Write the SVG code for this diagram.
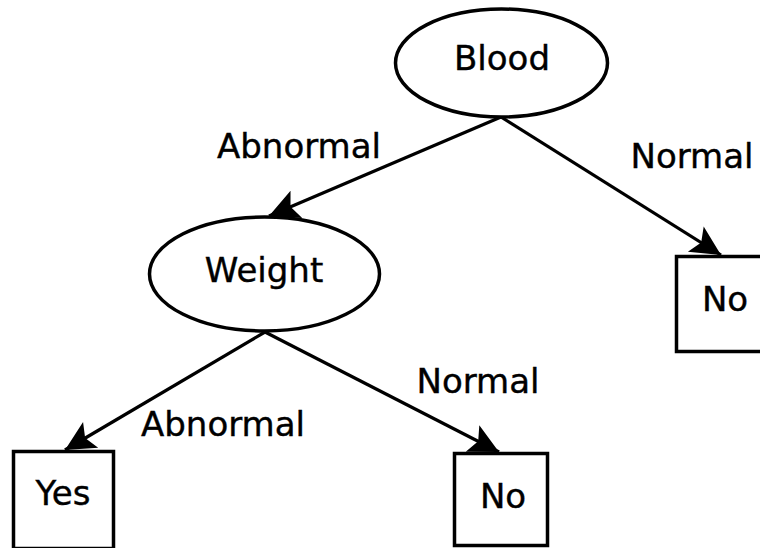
<svg xmlns="http://www.w3.org/2000/svg" width="760" height="548" viewBox="0 0 760 548">
  <style>
    .node { fill: #fff; stroke: #000; stroke-width: 3.5; }
    .edge { fill: none; stroke: #000; stroke-width: 3.2; }
    text { font-family: "DejaVu Sans", Verdana, sans-serif; font-size: 34px; fill: #000; stroke: #000; stroke-width: 0.4; }
    .c { text-anchor: middle; }
  </style>
  <defs>
    <marker id="arrow" markerUnits="userSpaceOnUse" markerWidth="34" markerHeight="34" viewBox="-30 -16 32 32" refX="0" refY="0" orient="auto">
      <path d="M0,0 L-28,-14 L-22,0 L-28,14 Z" fill="#000"/>
    </marker>
  </defs>
  <rect width="760" height="548" fill="#fff"/>

  <g id="connectors">
    <line class="edge" x1="501" y1="117" x2="269" y2="216" marker-end="url(#arrow)"/>
    <line class="edge" x1="501" y1="117" x2="721" y2="255" marker-end="url(#arrow)"/>
    <line class="edge" x1="265" y1="332" x2="65" y2="450" marker-end="url(#arrow)"/>
    <line class="edge" x1="265" y1="332" x2="499" y2="452" marker-end="url(#arrow)"/>
    <text class="c" x="299" y="158">Abnormal</text>
    <text class="c" x="692" y="168">Normal</text>
    <text class="c" x="478" y="393">Normal</text>
    <text class="c" x="223" y="436">Abnormal</text>
  </g>

  <g id="blood">
    <ellipse class="node" cx="501.5" cy="63" rx="106" ry="54"/>
    <text class="c" x="502" y="70">Blood</text>
  </g>
  <g id="weight">
    <ellipse class="node" cx="264.5" cy="274" rx="115" ry="57"/>
    <text class="c" x="264" y="282">Weight</text>
  </g>
  <g id="no-right">
    <rect class="node" x="676.5" y="256.5" width="97" height="95"/>
    <text class="c" x="725" y="311">No</text>
  </g>
  <g id="yes">
    <rect class="node" x="13.5" y="451.5" width="100" height="97"/>
    <text class="c" x="63" y="505">Yes</text>
  </g>
  <g id="no-bottom">
    <rect class="node" x="454.5" y="453.5" width="93" height="92"/>
    <text class="c" x="503" y="508">No</text>
  </g>
</svg>
